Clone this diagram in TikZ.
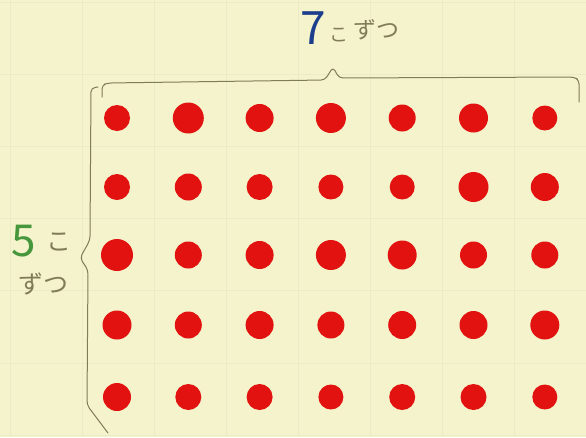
\documentclass[tikz,border=0pt]{standalone}
\usepackage{fontspec}
\newfontfamily\cjk{Noto Sans CJK JP}
\definecolor{paper}{RGB}{244,243,203}
\definecolor{gridc}{RGB}{236,235,200}
\definecolor{dotred}{RGB}{226,18,16}
\definecolor{pencil}{RGB}{128,124,88}
\definecolor{inkblue}{RGB}{28,62,140}
\definecolor{inkgreen}{RGB}{70,150,60}
\tikzset{
  dot/.style={circle, fill=dotred, draw=none, inner sep=0pt},
  brace/.style={draw=pencil, line width=1.0pt, rounded corners=4pt, line cap=round, line join=round},
  kana/.style={text=pencil, font=\cjk\fontsize{25}{25}\selectfont, inner sep=0pt},
  gridline/.style={draw=gridc, line width=0.5pt}
}
\begin{document}
\begin{tikzpicture}[x=1pt,y=-1pt]
\fill[paper] (0,0) rectangle (586,437);
\useasboundingbox (0,0) rectangle (586,437);
% faint grid
\foreach \gx in {10,82,154,226,298,370,442,514} {\draw[gridline] (\gx,0) -- (\gx,437);}
\foreach \gy in {2,74,146,218,290,363,435} {\draw[gridline] (0,\gy) -- (586,\gy);}
% dots
\foreach \r/\y/\sizes in {1/118/{26,31,28,30,27,29,25},2/187/{26,27,26,25,25,30,28},3/255/{32,27,28,30,29,27,27},4/325/{29,27,28,27,28,28,29},5/397/{28,26,26,25,26,26,25}} {
  \foreach \s [count=\c] in \sizes {
    \pgfmathsetmacro{\xx}{117+71.3*(\c-1)}
    \node[dot, minimum size=\s pt] (d\r\c) at (\xx,\y) {};
  }
}
% top brace
\coordinate (tl) at (102,97);
\coordinate (tp) at (333,67);
\coordinate (tr) at (579,102);
\draw[brace] (tl) -- (102,85) -- (108,83) -- (325,80) -- (tp) -- (339,78) -- (574,77) -- (579,80) -- (tr);
% left brace
\coordinate (lt) at (98,87);
\coordinate (lp) at (80,258);
\coordinate (lb) at (108,433);
\draw[brace] (lt) -- (91,88) -- (90,240) -- (lp) -- (88,270) -- (87,405) -- (lb);
% labels
\node[text=inkblue, font=\cjk\fontsize{46}{46}\selectfont, inner sep=0pt] (seven) at (313,28) {7};
\node[kana, font=\cjk\fontsize{19}{19}\selectfont] (ko1) at (339,35) {こ};
\node[kana, font=\cjk\fontsize{23}{23}\selectfont] (zutsu1) at (376,30) {ずつ};
\node[text=inkgreen, font=\cjk\fontsize{44}{44}\selectfont, inner sep=0pt] (five) at (24,241) {5};
\node[kana] (ko2) at (59,242) {こ};
\node[kana] (zutsu2) at (43,284) {ずつ};
\end{tikzpicture}
\end{document}
